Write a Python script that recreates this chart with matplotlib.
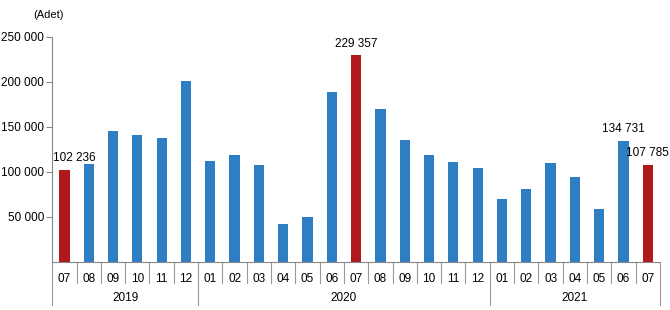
import matplotlib.pyplot as plt
from matplotlib.ticker import FuncFormatter

plt.rcParams['font.family'] = ['Liberation Sans', 'DejaVu Sans']

# monthly counts, 2019-07 .. 2021-07
months = ['07', '08', '09', '10', '11', '12',
          '01', '02', '03', '04', '05', '06', '07', '08', '09', '10', '11', '12',
          '01', '02', '03', '04', '05', '06', '07']
years = ['2019', '2020', '2021']
year_sizes = [6, 12, 7]
values = [102236, 109000, 145500, 141000, 138000, 201000,
          112000, 119000, 108000, 42000, 50000, 189000, 229357, 170000, 136000,
          119000, 111000, 104500,
          70000, 81000, 110000, 94500, 59000, 134731, 107785]
highlight = [0, 12, 24]
labelled = {0: '102 236', 12: '229 357', 23: '134 731', 24: '107 785'}

blue = '#2E7EC4'
red = '#B0191C'
colors = [red if i in highlight else blue for i in range(len(values))]

fig = plt.figure(figsize=(6.7, 3.1), dpi=100)
ax = fig.add_axes([0.078, 0.155, 0.907, 0.726])

x = list(range(len(values)))
ax.bar(x, values, width=0.42, color=colors, zorder=2)

ax.set_xlim(-0.5, len(values) - 0.5)
ax.set_ylim(0, 250000)
ax.set_yticks([50000, 100000, 150000, 200000, 250000])
ax.yaxis.set_major_formatter(FuncFormatter(lambda v, p: f'{int(v):,}'.replace(',', ' ')))
ax.tick_params(axis='y', labelsize=8.5, length=4, color='#888888', pad=2)
ax.set_xticks([])

for s in ['top', 'right']:
    ax.spines[s].set_visible(False)
for s in ['left', 'bottom']:
    ax.spines[s].set_color('#888888')

# data labels
for i, txt in labelled.items():
    dx = 7 if i == 0 else 0
    ax.annotate(txt, (x[i], values[i]), xytext=(dx, 4), textcoords='offset points',
                ha='center', va='bottom', fontsize=8.5)

# (Adet) label
fig.text(48 / 670, 1 - 15 / 310, '(Adet)', ha='center', va='center', fontsize=8)

# month labels and separators
trans = ax.get_xaxis_transform()
for i, m in enumerate(months):
    ax.text(x[i], -0.05, m, transform=trans, ha='center', va='top', fontsize=8.5)
bounds = [0]
for n in year_sizes:
    bounds.append(bounds[-1] + n)
year_edges = set(bounds)
for k in range(len(values) + 1):
    xe = k - 0.5
    depth = -0.19 if k in year_edges else -0.095
    ax.plot([xe, xe], [0, depth], transform=trans, color='#999999', lw=0.8, clip_on=False)
for j, yr in enumerate(years):
    mid = (bounds[j] + bounds[j + 1] - 1) / 2
    ax.text(mid, -0.135, yr, transform=trans, ha='center', va='top', fontsize=8.5)

fig.savefig('out.png', dpi=100)
